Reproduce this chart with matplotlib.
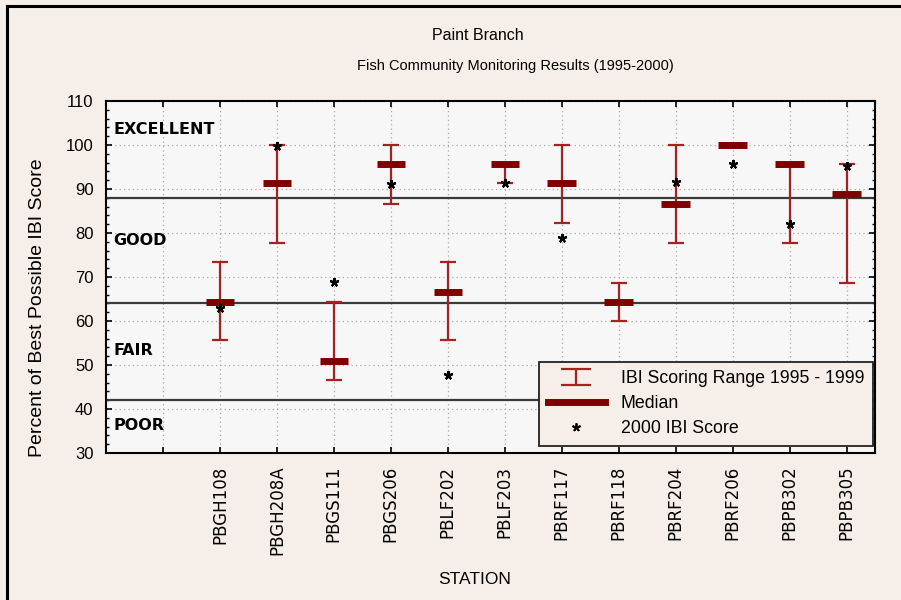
import matplotlib
matplotlib.use("Agg")
import matplotlib.pyplot as plt
from matplotlib.lines import Line2D
from matplotlib.path import Path
from matplotlib.ticker import MultipleLocator
import numpy as np

stations = ["PBGH108", "PBGH208A", "PBGS111", "PBGS206", "PBLF202", "PBLF203",
            "PBRF117", "PBRF118", "PBRF204", "PBRF206", "PBPB302", "PBPB305"]
range_min = [55.7, 77.7, 46.7, 86.7, 55.7, 91.4, 82.3, 60.0, 77.7, 100.0, 77.7, 68.7]
range_max = [73.3, 100.0, 64.3, 100.0, 73.3, 95.7, 100.0, 68.7, 100.0, 100.0, 95.7, 95.7]
medians = [64.4, 91.4, 51.0, 95.7, 66.7, 95.7, 91.4, 64.4, 86.7, 100.0, 95.7, 88.9]
score_2000 = [62.9, 99.8, 68.9, 91.1, 47.7, 91.3, 78.8, np.nan, 91.7, 95.7, 82.0, 95.2]

bands = [88, 64, 42]
band_labels = ["EXCELLENT", "GOOD", "FAIR", "POOR"]
band_label_y = [103.6, 78.4, 53.4, 36.2]

BG = "#F6EEE8"
RANGE_C = "#A52222"
MED_C = "#800000"

fig = plt.figure(figsize=(9.01, 6.0), dpi=100, facecolor=BG)
ax = fig.add_axes([106/901, 1-453/600, (875-106)/901, (453-101)/600])
ax.set_facecolor("#F7F7F7")

x = np.arange(2, 2 + len(stations))
ax.set_xlim(0, 13.5)
ax.set_ylim(30, 110)

ax.set_xticks(np.arange(1, 14))
ax.set_xticklabels([""] + stations, rotation=90, fontsize=12, family="DejaVu Sans")
ax.yaxis.set_major_locator(MultipleLocator(10))
ax.yaxis.set_minor_locator(MultipleLocator(2))
ax.grid(True, which="major", color="#A8A8A8", linestyle=(0, (1, 2.5)), linewidth=0.9)
ax.set_axisbelow(True)

for b in bands:
    ax.axhline(b, color="#3A3A3A", lw=1.6, zorder=2)

for lab, yy in zip(band_labels, band_label_y):
    ax.text(0.13, yy, lab, fontsize=11.5, fontweight="bold", family="DejaVu Sans",
            va="center", ha="left", zorder=3)

lo = np.array(range_min)
hi = np.array(range_max)
mid = (lo + hi) / 2
ax.errorbar(x, mid, yerr=[mid - lo, hi - mid], fmt="none", ecolor=RANGE_C,
            elinewidth=1.6, capsize=5.5, capthick=1.6, zorder=4)
ax.hlines(medians, x - 0.25, x + 0.25, colors=MED_C, lw=5, zorder=5)
ax.plot(x, score_2000, linestyle="none", marker=(5, 2, 0), markersize=6.5,
        mec="black", mew=1.5, color="black", zorder=6)

for sp in ax.spines.values():
    sp.set_linewidth(1.5)
    sp.set_color("black")
ax.tick_params(which="both", direction="in", top=True, right=True)
ax.tick_params(which="major", length=4, width=1.2)
ax.tick_params(which="minor", length=2.5, width=1)
ax.tick_params(axis="x", pad=9)
ax.tick_params(axis="y", pad=9)
for lbl in ax.get_yticklabels():
    lbl.set_family("Liberation Sans")
    lbl.set_fontsize(12)

# legend handle shaped like the range symbol
range_path = Path([(-1, 0.55), (1, 0.55), (0, 0.55), (0, -0.55), (-1, -0.55), (1, -0.55)],
                  [Path.MOVETO, Path.LINETO, Path.MOVETO, Path.LINETO, Path.MOVETO, Path.LINETO])
handles = [Line2D([], [], linestyle="none", marker=range_path, markersize=22,
                  mec=RANGE_C, mfc="none", mew=1.6),
           Line2D([], [], color=MED_C, lw=5),
           Line2D([], [], linestyle="none", marker=(5, 2, 0), markersize=6,
                  mec="black", mew=1.3, color="black")]
labels = ["IBI Scoring Range 1995 - 1999", "Median", "2000 IBI Score"]
leg = ax.legend(handles, labels, loc="lower right", bbox_to_anchor=(1.0, 0.014),
                borderaxespad=0.1, fancybox=False, framealpha=1, facecolor=BG,
                edgecolor="#222222", prop={"family": "Liberation Sans", "size": 12.8},
                handlelength=3.2, labelspacing=0.45, borderpad=0.5, handletextpad=0.9,
                markerscale=1.0)
leg.get_frame().set_linewidth(1.3)
leg.set_zorder(10)

fig.text(478/901, 1-35/600, "Paint Branch", ha="center", va="center",
         fontsize=11.5, family="Liberation Sans")
fig.text(515/901, 1-66/600, "Fish Community Monitoring Results (1995-2000)", ha="center",
         va="center", fontsize=10.5, family="Liberation Sans")
fig.text(38/901, 1-308/600, "Percent of Best Possible IBI Score", rotation=90,
         ha="center", va="center", fontsize=14, family="Liberation Sans")
fig.text(475/901, 1-580/600, "STATION", ha="center", va="center", fontsize=12.5,
         family="Liberation Sans")

fig.add_artist(Line2D([7/901, 7/901], [0, 1-6/600], transform=fig.transFigure,
                      color="black", lw=2.2))
fig.add_artist(Line2D([7/901, 1], [1-6/600, 1-6/600], transform=fig.transFigure,
                      color="black", lw=2.2))

fig.savefig("out.png", dpi=100, facecolor=BG)
